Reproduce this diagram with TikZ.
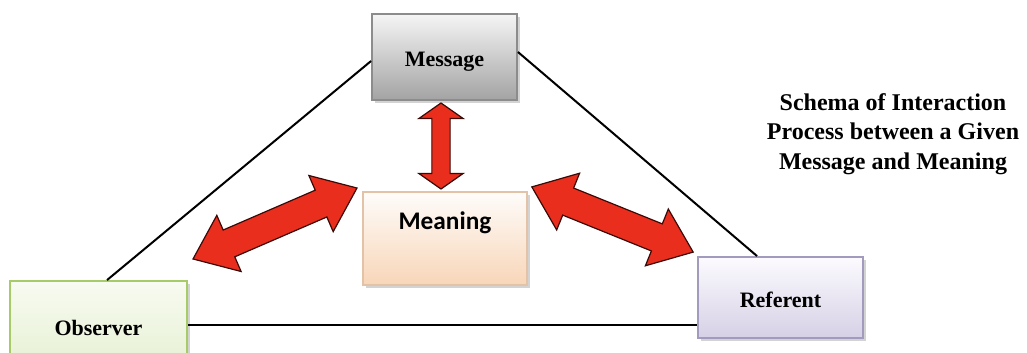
\documentclass[tikz,border=0pt]{standalone}
\usepackage{fontspec}
\setmainfont{Liberation Serif}
\newfontfamily\calfont{Carlito}
\usetikzlibrary{shapes.arrows,shadows,calc}

\definecolor{msgtop}{HTML}{F5F5F5}
\definecolor{msgbot}{HTML}{A3A3A3}
\definecolor{msgline}{HTML}{8C8C8C}
\definecolor{meantop}{HTML}{FEFCFA}
\definecolor{meanbot}{HTML}{F8D6B8}
\definecolor{meanline}{HTML}{E2C3A8}
\definecolor{obstop}{HTML}{F8FBF1}
\definecolor{obsbot}{HTML}{E6F0D3}
\definecolor{obsline}{HTML}{A8CB6A}
\definecolor{reftop}{HTML}{FCFBFE}
\definecolor{refbot}{HTML}{D6D0E6}
\definecolor{refline}{HTML}{A39BBD}
\definecolor{arrowred}{HTML}{EA2E1E}
\definecolor{arrowline}{HTML}{3A0A06}

\begin{document}
\begin{tikzpicture}
[x=0.75pt,y=-0.75pt,
 every node/.style={inner sep=0pt},
 box/.style={draw,rectangle,line width=1.4pt,
   font=\bfseries\fontsize{16.5}{20}\selectfont,text height=15pt,text depth=0pt,
   drop shadow={shadow xshift=2.5pt,shadow yshift=-2.5pt,opacity=0.35}},
 fatarrow/.style={shape=double arrow,draw=arrowline,fill=arrowred,line width=0.9pt,
   inner xsep=0pt,inner ysep=10.5pt,
   double arrow head extend=12pt,double arrow tip angle=76},
 link/.style={draw,line width=1.5pt}]

\useasboundingbox (0,0) rectangle (1027,353);

% the four boxes
\node[box,draw=msgline,top color=msgtop,bottom color=msgbot,
  minimum width=108.75pt,minimum height=64.5pt] (msg) at (444.5,57) {Message};
\node[box,draw=meanline,top color=meantop,bottom color=meanbot,
  minimum width=123pt,minimum height=69.75pt,
  font=\calfont\bfseries\fontsize{19}{22}\selectfont,text height=13pt,text depth=26pt] (mean) at (445,238.5) {Meaning};
\node[box,draw=obsline,top color=obstop,bottom color=obsbot,
  minimum width=132.75pt,minimum height=66pt] (obs) at (98.5,325) {Observer};
\node[box,draw=refline,top color=reftop,bottom color=refbot,
  minimum width=123.75pt,minimum height=60.75pt] (ref) at (780.5,297.5) {Referent};

% triangle
\draw[link] ([xshift=6.4pt]obs.north) -- ([yshift=-3pt]msg.west);
\draw[link] ([yshift=3.75pt]msg.east) -- ([xshift=-17.6pt]ref.north);
\draw[link] (obs.east) -- (obs.east -| ref.west);

% red arrows
\node[fatarrow,minimum height=64.5pt,inner ysep=6.4pt,
  double arrow head extend=9.75pt,double arrow tip angle=110,rotate=90] (arrtop) at (441,146) {};
\node[fatarrow,minimum height=134pt,rotate=23.4] (arrleft) at (275,223.5) {};
\node[fatarrow,minimum height=130.5pt,rotate=-22] (arrright) at (612.5,219.5) {};

\node[align=center,font=\bfseries\fontsize{18}{22}\selectfont] (title) at (893,134)
  {Schema of Interaction\\Process between a Given\\Message and Meaning};
\end{tikzpicture}
\end{document}
